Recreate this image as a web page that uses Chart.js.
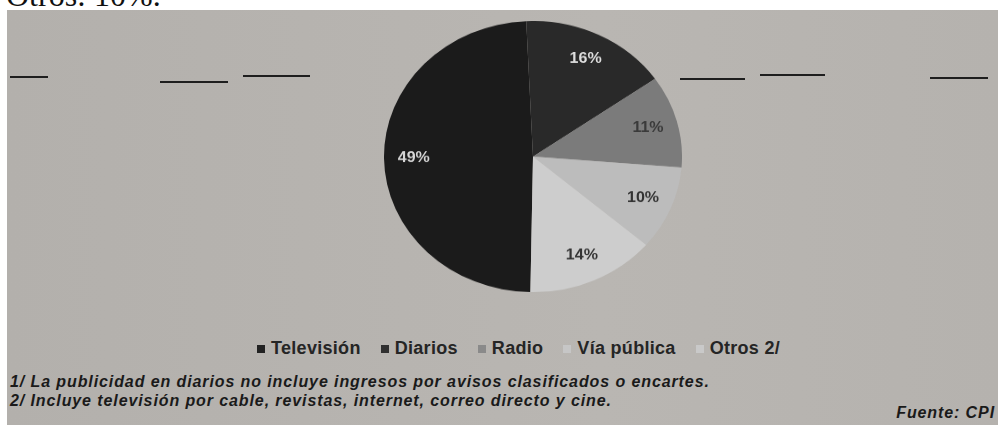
<!DOCTYPE html>
<html>
<head>
<meta charset="utf-8">
<script src="https://cdn.jsdelivr.net/npm/chart.js@4.4.1/dist/chart.umd.min.js"></script>
<style>
  html, body { margin: 0; padding: 0; background: #fff; }
  body { width: 998px; height: 425px; position: relative; overflow: hidden; font-family: "Liberation Sans", Arial, sans-serif; }
  .toptext { position: absolute; left: 6px; top: -21px; font: 32px/32px "Liberation Serif", "Times New Roman", serif; color: #111; }
  .paper { position: absolute; left: 7px; top: 10px; right: 0; bottom: 0; background: linear-gradient(90deg, #b3b0ac, #b9b6b2 60%, #b5b2ae); }
  .dash { position: absolute; height: 2px; background: #1e1e1e; }
  .pie-wrap { position: absolute; left: 384px; top: 21px; width: 298px; height: 298px; transform: scaleY(0.91); transform-origin: top left; }
  #legend { position: absolute; left: 257px; top: 338px; display: flex; font-weight: bold; font-size: 18px; letter-spacing: 0.3px; color: #252525; }
  #legend span { display: inline-flex; align-items: center; margin-right: 20px; }
  #legend i { display: inline-block; width: 8px; height: 8px; margin-right: 6px; }
  .note { position: absolute; left: 10px; font: italic bold 16px "Liberation Sans", Arial, sans-serif; letter-spacing: 0.9px; color: #1a1a1a; }
  .src { position: absolute; right: 3px; top: 404px; font: italic bold 16px "Liberation Sans", Arial, sans-serif; letter-spacing: 0.9px; color: #1a1a1a; }
</style>
</head>
<body>
<div class="toptext">Otros: 10%.</div>
<div class="paper"></div>
<div class="dash" style="left:10px;width:38px;top:76px"></div>
<div class="dash" style="left:160px;width:68px;top:81px"></div>
<div class="dash" style="left:243px;width:67px;top:75px"></div>
<div class="dash" style="left:680px;width:65px;top:78px"></div>
<div class="dash" style="left:760px;width:65px;top:74px"></div>
<div class="dash" style="left:930px;width:58px;top:77px"></div>

<div class="pie-wrap"><canvas id="pie"></canvas></div>
<div id="legend"></div>

<div class="note" style="top:373px">1/ La publicidad en diarios no incluye ingresos por avisos clasificados o encartes.</div>
<div class="note" style="top:392px">2/ Incluye televisión por cable, revistas, internet, correo directo y cine.</div>
<div class="src">Fuente: CPI</div>

<script>
const categories = ['Televisión', 'Diarios', 'Radio', 'Vía pública', 'Otros 2/'];
const shares = [49, 16, 11, 10, 14];
const sliceColors = ['#1b1b1b', '#292929', '#7b7b7b', '#bcbcbc', '#cdcdcd'];
const legendColors = ['#222222', '#303030', '#8a8a8a', '#c6c6c6', '#c9c9c9'];
const labelColors = ['#d6d6d6', '#dedede', '#3a3a3a', '#333333', '#333333'];

// legend drawn in html so it can sit off the pie's centre like the print
const legend = document.getElementById('legend');
categories.forEach((name, i) => {
    const item = document.createElement('span');
    item.innerHTML = '<i style="background:' + legendColors[i] + '"></i>' + name;
    legend.appendChild(item);
});

// percent labels inside the slices
const pctLabels = {
    id: 'pctLabels',
    afterDatasetsDraw(chart) {
        const ctx = chart.ctx;
        const meta = chart.getDatasetMeta(0);
        ctx.save();
        ctx.font = 'bold 16px "Liberation Sans", Arial, sans-serif';
        ctx.textAlign = 'center';
        ctx.textBaseline = 'middle';
        meta.data.forEach((arc, i) => {
            const p = arc.getProps(['x', 'y', 'startAngle', 'endAngle', 'outerRadius'], true);
            const mid = (p.startAngle + p.endAngle) / 2;
            const r = p.outerRadius * 0.8;
            ctx.fillStyle = labelColors[i];
            ctx.fillText(shares[i] + '%', p.x + Math.cos(mid) * r, p.y + Math.sin(mid) * r);
        });
        ctx.restore();
    }
};

new Chart(document.getElementById('pie'), {
    type: 'pie',
    data: {
        labels: categories,
        datasets: [{
            data: shares,
            backgroundColor: sliceColors,
            borderWidth: 0,
        }],
    },
    options: {
        responsive: true,
        maintainAspectRatio: false,
        animation: false,
        rotation: 181,
        layout: { padding: 0 },
        plugins: {
            legend: { display: false },
            tooltip: { enabled: false },
        },
    },
    plugins: [pctLabels],
});
</script>
</body>
</html>
